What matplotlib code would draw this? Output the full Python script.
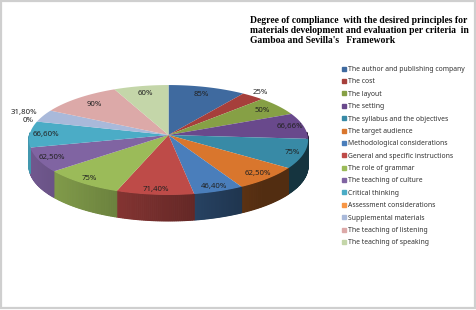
import numpy as np
import matplotlib
matplotlib.use('Agg')
import matplotlib.pyplot as plt
from matplotlib.patches import Rectangle
from matplotlib.lines import Line2D

categories = ['The author and publishing company', 'The cost', 'The layout', 'The setting',
              'The syllabus and the objectives', 'The target audience', 'Methodological considerations',
              'General and specific instructions', 'The role of grammar', 'The teaching of culture',
              'Critical thinking', 'Assessment considerations', 'Supplemental materials',
              'The teaching of listening', 'The teaching of speaking']
values = [85, 25, 50, 66.66, 75, 62.5, 46.4, 71.4, 75, 62.5, 66.6, 0, 31.8, 90, 60]
value_labels = ['85%', '25%', '50%', '66,66%', '75%', '62,50%', '46,40%', '71,40%', '75%', '62,50%',
                '66,60%', '0%', '31,80%', '90%', '60%']
colors = ['#3f6a9f', '#a63f3b', '#86a045', '#69498c', '#388aa6', '#d9762d', '#4a7ebb', '#be4b48',
          '#9bbb59', '#8064a2', '#4bacc6', '#f79646', '#a9b9da', '#dca9a8', '#c4d6a9']
label_radius = [0.83, 1.1, 0.85, 0.9, 0.92, 0.9, 0.92, 0.92, 0.92, 0.9, 0.88, 1.07, 1.16, 0.82, 0.83]
title = ("Degree of compliance  with the desired principles for\n"
         "materials development and evaluation per criteria  in\n"
         "Gamboa and Sevilla's   Framework")

W, H = 476, 310
cx, cy = 168.5, 135      # apex in pixels
Rx, a, b = 139, 54.5, 0.0909
depth = 26


def project(ang, r=1.0):
    u = r*np.sin(ang)
    v = r*np.cos(ang)
    s = 1 + b*v
    return cx + Rx*u/s, cy - a*v/s


def shade(c, f):
    return tuple(f*x for x in matplotlib.colors.to_rgb(c))


fig = plt.figure(figsize=(W/100, H/100), dpi=100, facecolor='white')
ax = fig.add_axes([0, 0, 1, 1])
ax.set_xlim(0, W)
ax.set_ylim(H, 0)
ax.axis('off')

# grey frame of the screenshot
ax.add_patch(Rectangle((0.8, 0.8), W-2, H-2.5, fill=False, ec='#cfcfcf', lw=1.6))

edges = 2*np.pi*np.cumsum([0]+values)/sum(values)

# side wall, only the front part shows
for i, c in enumerate(colors):
    t = np.linspace(edges[i], edges[i+1], 40)
    for t0, t1 in zip(t[:-1], t[1:]):
        if np.cos((t0+t1)/2) > 0.05:
            continue
        x0, y0 = project(t0)
        x1, y1 = project(t1)
        f = max(0.38, 0.58 + 0.3*(cx-(x0+x1)/2)/Rx)
        col = shade(c, f)
        ax.fill([x0, x1, x1, x0], [y0, y1, y1+depth, y0+depth], fc=col, ec=col, lw=0.8)

# top face
for i, c in enumerate(colors):
    t = np.linspace(edges[i], edges[i+1], 60)
    xs, ys = project(t)
    ax.fill(np.r_[cx, xs], np.r_[cy, ys], color=c, lw=0)

# labels
for i, lab in enumerate(value_labels):
    mid = (edges[i]+edges[i+1])/2
    x, y = project(mid, label_radius[i])
    ax.text(x, y, lab, fontsize=5.6, family='Noto Sans', color='#222222', ha='center', va='center')

ax.text(250, 30.5, title, fontsize=6.9, family='Liberation Serif', weight='bold', color='black',
        ha='left', va='center', linespacing=1.15)

handles = [Line2D([], [], marker='s', ms=3, ls='', color=c) for c in colors]
ax.legend(handles, categories, loc='upper left', bbox_to_anchor=(341/W, 1-66/H), frameon=False,
          prop={'family': 'Noto Sans', 'size': 4.9}, labelspacing=0.79, handletextpad=0.1,
          labelcolor='#333333', borderpad=0, borderaxespad=0, handlelength=1.0)

fig.savefig('out.png', dpi=100)
